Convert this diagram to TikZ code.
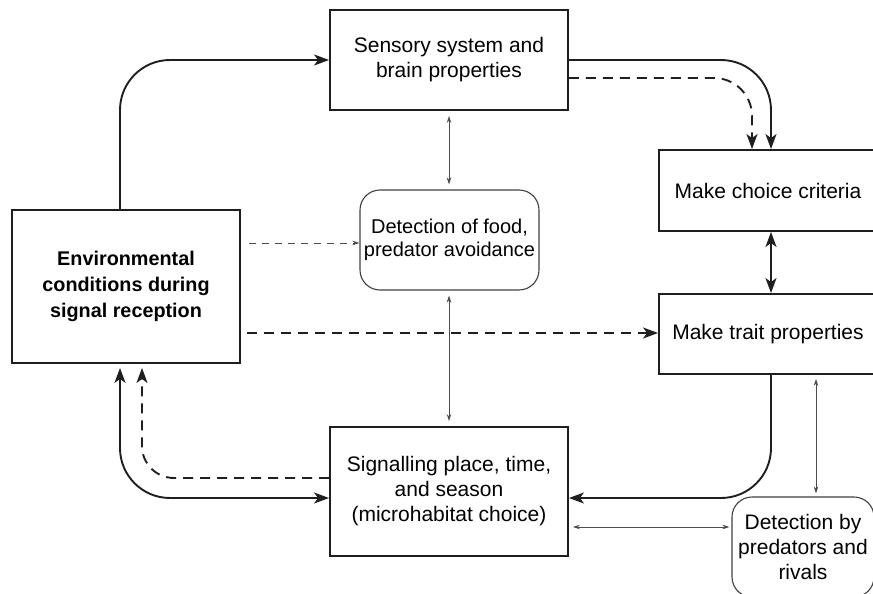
\documentclass[tikz,border=0pt]{standalone}
\usepackage{fontspec}
\setmainfont{Liberation Sans}
\usetikzlibrary{arrows.meta,calc}
\begin{document}
\begin{tikzpicture}[x=1pt,y=-1pt,
  box/.style={draw=black!88,line width=1.9pt,rectangle,inner sep=0pt,align=center,
    font=\fontsize{21}{25}\selectfont},
  rbox/.style={draw=black!75,line width=1.1pt,rectangle,rounded corners=20pt,inner sep=0pt,align=center,
    font=\fontsize{21}{25}\selectfont},
  main/.style={draw=black!88,line width=1.9pt},
  bighead/.style={-{Stealth[length=15pt,width=11pt,inset=4pt]}},
  bigboth/.style={{Stealth[length=15pt,width=11pt,inset=4pt]}-{Stealth[length=15pt,width=11pt,inset=4pt]}},
  thinarr/.style={draw=black!70,line width=0.9pt,{Stealth[length=7pt,width=4.5pt]}-{Stealth[length=7pt,width=4.5pt]}},
  thinone/.style={draw=black!70,line width=0.9pt,-{Stealth[length=7pt,width=4.5pt]}},
  bigdash/.style={dash pattern=on 10pt off 7pt},
  smalldash/.style={dash pattern=on 7pt off 6pt}
]
\useasboundingbox (0,0) rectangle (873,594);
\clip (0,0) rectangle (873,594);

\node[box,minimum width=238pt,minimum height=100pt] (sens) at (449,60) {Sensory system and\\brain properties};
\node[box,minimum width=218pt,minimum height=81pt] (choice) at (768,190.5) {Make choice criteria};
\node[box,minimum width=218pt,minimum height=80pt] (trait) at (768,334) {Make trait properties};
\node[box,minimum width=228pt,minimum height=153pt,font=\bfseries\fontsize{19.8}{26}\selectfont] (env) at (126,286.5) {Environmental\\conditions during\\signal reception};
\node[rbox,minimum width=179pt,minimum height=100pt,font=\fontsize{20}{22.5}\selectfont] (food) at (449.5,240) {Detection of food,\\predator avoidance};
\node[box,minimum width=238pt,minimum height=129pt] (sig) at (449,491.5) {Signalling place, time,\\and season\\(microhabitat choice)};
\node[rbox,minimum width=142pt,minimum height=100pt] (pred) at (803,547) {Detection by\\predators and\\rivals};

% environment -> sensory
\draw[main,bighead,rounded corners=50pt] ($(env.north)+(-6,0)$) |- (sens.west);
% sensory -> choice (solid)
\draw[main,bighead,rounded corners=50pt] (sens.east) -| ($(choice.north)+(3,0)$);
% sensory -> choice (dashed)
\draw[main,bigdash,bighead,rounded corners=38pt] ($(sens.east)+(0,18)$) -| ($(choice.north)+(-16,0)$);
% choice <-> trait
\draw[main,bigboth] ($(choice.south)+(3,0)$) -- ($(trait.north)+(3,0)$);
% trait -> signalling
\draw[main,bighead,rounded corners=50pt] ($(trait.south)+(3,0)$) |- ($(sig.east)+(0,6.5)$);
% env <-> signalling (solid)
\draw[main,bigboth,rounded corners=50pt] ($(env.south)+(-6,4)$) |- ($(sig.west)+(0,6.5)$);
% signalling -> env (dashed)
\draw[main,bigdash,bighead,rounded corners=32pt] ($(sig.west)+(0,-13.5)$) -| ($(env.south)+(16,4)$);
% env -> food (thin dashed)
\draw[thinone,smalldash] ($(env.east |- food.west)+(8,3)$) -- ($(food.west)+(0,3)$);
% env -> trait (thick dashed)
\draw[main,bigdash,bighead] ($(env.east |- trait.west)+(6,-1)$) -- ($(trait.west)+(0,-1)$);
% thin vertical double arrows
\draw[thinarr] ($(sens.south)+(0,5)$) -- ($(food.north)+(-0.5,-5)$);
\draw[thinarr] ($(food.south)+(-0.5,5)$) -- ($(sig.north)+(0,-5)$);
\draw[thinarr] ($(trait.south -| pred.north)+(13,4)$) -- ($(pred.north)+(13,-3)$);
\draw[thinarr] ($(sig.east)+(4,35.5)$) -- ($(pred.west |- sig.east)+(-2,35.5)$);
\end{tikzpicture}
\end{document}
